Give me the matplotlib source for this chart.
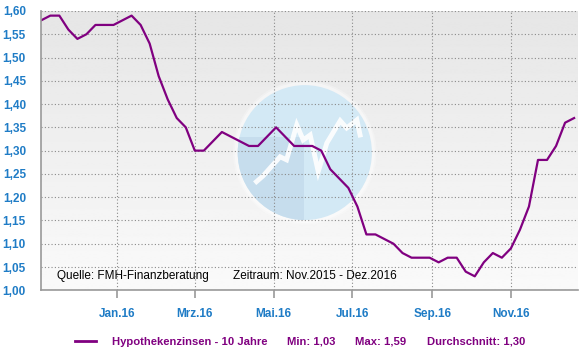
import numpy as np
import pandas as pd
import matplotlib.pyplot as plt
from matplotlib.patches import Ellipse
from matplotlib.ticker import FuncFormatter

# weekly 10-year mortgage rates, Nov 2015 - Dec 2016
dates = pd.date_range('2015-11-03', periods=60, freq='7D')
rates = [1.58, 1.59, 1.59, 1.56, 1.54, 1.55, 1.57, 1.57, 1.57, 1.58,
         1.59, 1.57, 1.53, 1.46, 1.41, 1.37, 1.35, 1.30, 1.30, 1.32,
         1.34, 1.33, 1.32, 1.31, 1.31, 1.33, 1.35, 1.33, 1.31, 1.31,
         1.31, 1.30, 1.26, 1.24, 1.22, 1.18, 1.12, 1.12, 1.11, 1.10,
         1.08, 1.07, 1.07, 1.07, 1.06, 1.07, 1.07, 1.04, 1.03, 1.06,
         1.08, 1.07, 1.09, 1.13, 1.18, 1.28, 1.28, 1.31, 1.36, 1.37]
series_name = 'Hypothekenzinsen - 10 Jahre'
stats = ['Min: 1,03', 'Max: 1,59', 'Durchschnitt: 1,30']
month_ticks = ['2016-01-01', '2016-03-01', '2016-05-01', '2016-07-01', '2016-09-01', '2016-11-01']
month_labels = ['Jan.16', 'Mrz.16', 'Mai.16', 'Jul.16', 'Sep.16', 'Nov.16']

purple = '#800080'
blue = '#1f7cc6'
plt.rcParams['font.family'] = ['Liberation Sans', 'DejaVu Sans']

fig = plt.figure(figsize=(5.83, 3.54), dpi=100)
ax = fig.add_axes([0.0708, 0.18, 0.9206, 0.789])

# gradient background
grad = np.linspace(0.98, 0.9, 256).reshape(-1, 1)
ax.imshow(grad, extent=[0, 1, 0, 1], transform=ax.transAxes, cmap='gray',
          vmin=0, vmax=1, aspect='auto', zorder=0, origin='lower')

# watermark logo
for k, a in [(1.07, 0.25), (1.045, 0.4)]:
    ax.add_patch(Ellipse((0.491, 0.493), 0.25 * k, 0.483 * k, transform=ax.transAxes,
                         facecolor='white', edgecolor='none', alpha=a, zorder=1))
ax.add_patch(Ellipse((0.491, 0.493), 0.25, 0.483, transform=ax.transAxes,
                     facecolor='#d3e9f5', edgecolor='none', zorder=1))
dark = Ellipse((0.491, 0.493), 0.25, 0.483, transform=ax.transAxes,
               facecolor='#c6dded', edgecolor='none', zorder=1)
ax.add_patch(dark)
clip = plt.Rectangle((0.3, 0.0), 0.19, 0.55, transform=ax.transAxes)
dark.set_clip_path(clip)
zx = [0.401, 0.413, 0.445, 0.457, 0.476, 0.488, 0.501, 0.516, 0.532, 0.557, 0.569, 0.588, 0.594]
zy = [0.389, 0.409, 0.478, 0.467, 0.592, 0.538, 0.556, 0.425, 0.527, 0.607, 0.581, 0.610, 0.556]
ax.plot(zx, zy, color='white', lw=3.5, alpha=0.9, transform=ax.transAxes, zorder=1,
        solid_joinstyle='miter')

ax.plot(dates, rates, color=purple, lw=1.6, zorder=3)

ax.set_ylim(1.0, 1.6)
ax.set_xlim(pd.Timestamp('2015-11-03'), pd.Timestamp('2016-12-23'))
ax.set_yticks(np.arange(1.0, 1.601, 0.05))
ax.yaxis.set_major_formatter(FuncFormatter(lambda v, p: f'{v:.2f}'.replace('.', ',')))
ax.set_xticks(pd.to_datetime(month_ticks))
ax.set_xticklabels(month_labels)

ax.grid(True, color='#8a8a8a', linestyle=(0, (1, 2)), linewidth=0.8, zorder=2)
ax.set_axisbelow(False)
for s in ['top', 'right']:
    ax.spines[s].set_visible(False)
for s in ['left', 'bottom']:
    ax.spines[s].set_color('#999999')
    ax.spines[s].set_linewidth(1.2)
    ax.spines[s].set_zorder(4)

ax.tick_params(axis='y', length=0, pad=11, labelsize=8.5, labelcolor=blue)
ax.tick_params(axis='x', length=6, width=1.2, color='#999999', pad=7,
               labelsize=8.5, labelcolor=blue)
for lab in ax.get_xticklabels() + ax.get_yticklabels():
    lab.set_fontweight('bold')

ax.text(0.03, 0.05, 'Quelle: FMH-Finanzberatung', transform=ax.transAxes,
        fontsize=8.5, va='center', ha='left', zorder=5)
ax.text(0.358, 0.05, 'Zeitraum: Nov.2015 - Dez.2016', transform=ax.transAxes,
        fontsize=8.5, va='center', ha='left', zorder=5)

# legend row
fig.add_artist(plt.Line2D([75 / 583, 96 / 583], [1 - 341 / 354] * 2, color=purple, lw=2))
fig.text(112 / 583, 1 - 342 / 354, series_name, color=purple, fontsize=8.1,
         fontweight='bold', va='center')
for xp, t in zip([287, 355, 427], stats):
    fig.text(xp / 583, 1 - 342 / 354, t, color=purple, fontsize=8.1,
             fontweight='bold', va='center')

fig.savefig('out.png', dpi=100)
